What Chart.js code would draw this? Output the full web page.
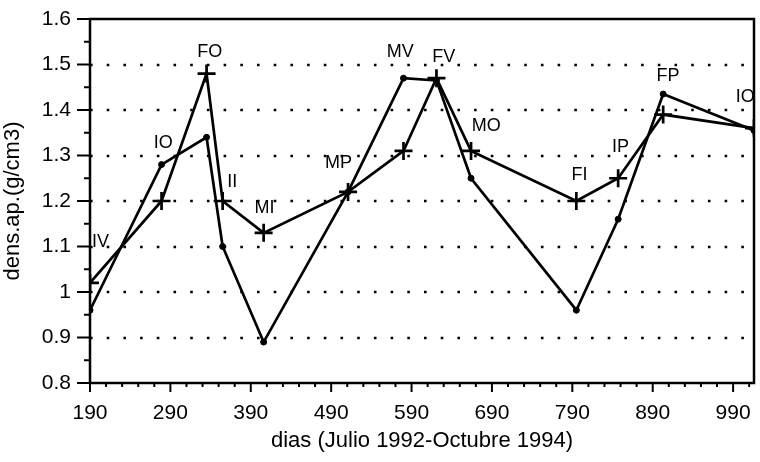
<!DOCTYPE html>
<html>
<head>
<meta charset="utf-8">
<script src="https://cdn.jsdelivr.net/npm/chart.js@4.4.1/dist/chart.umd.min.js"></script>
<style>
  html, body { margin: 0; padding: 0; background: #ffffff; }
  #wrap { width: 760px; height: 462px; }
</style>
</head>
<body>
<div id="wrap"><canvas id="c" width="760" height="462"></canvas></div>
<script>
// ---- data ----
const days = [190, 279, 335, 355, 406, 511, 580, 621, 664, 795, 847, 903, 1016];
const densDots = [0.96, 1.28, 1.34, 1.10, 0.89, 1.22, 1.47, 1.465, 1.25, 0.96, 1.16, 1.435, 1.355];
const densCross = [1.02, 1.20, 1.48, 1.20, 1.13, 1.22, 1.31, 1.47, 1.31, 1.20, 1.25, 1.39, 1.36];
const xTicks = [190, 290, 390, 490, 590, 690, 790, 890, 990];
const yTicks = [0.8, 0.9, 1.0, 1.1, 1.2, 1.3, 1.4, 1.5, 1.6];
const labelText = ['IV', 'IO', 'FO', 'II', 'MI', 'MP', 'MV', 'FV', 'MO', 'FI', 'IP', 'FP', 'IO'];
const labelDay = [203, 281, 339, 367, 407, 499, 576, 630, 683, 799, 850, 909, 1005];
const labelDens = [1.11, 1.327, 1.527, 1.242, 1.185, 1.284, 1.527, 1.516, 1.365, 1.257, 1.319, 1.475, 1.429];
const xTitle = 'dias (Julio 1992-Octubre 1994)';
const yTitle = 'dens.ap.(g/cm3)';

const FONT = '"Liberation Sans", Arial, Helvetica, sans-serif';

const framePlugin = {
  id: 'frame',
  beforeDatasetsDraw(chart) {
    const { ctx, chartArea: a, scales: { y } } = chart;
    ctx.save();
    ctx.strokeStyle = '#000';
    ctx.lineWidth = 2.6;
    ctx.setLineDash([2.6, 14.1]);
    yTicks.forEach(v => {
      if (v <= yTicks[0] || v >= yTicks[yTicks.length - 1]) return;
      const py = Math.round(y.getPixelForValue(v));
      ctx.beginPath();
      ctx.moveTo(a.left, py);
      ctx.lineTo(a.right, py);
      ctx.stroke();
    });
    ctx.restore();
  },
  afterDatasetsDraw(chart) {
    const { ctx, chartArea: a, scales: { x, y } } = chart;
    ctx.save();
    ctx.beginPath();
    ctx.rect(a.left, a.top, a.right - a.left, a.bottom - a.top);
    ctx.clip();
    ctx.fillStyle = '#000';
    ctx.font = '18px ' + FONT;
    ctx.textAlign = 'center';
    ctx.textBaseline = 'middle';
    labelText.forEach((t, i) => {
      ctx.fillText(t, x.getPixelForValue(labelDay[i]), y.getPixelForValue(labelDens[i]));
    });
    ctx.restore();

    ctx.save();
    ctx.strokeStyle = '#000';
    ctx.lineWidth = 2.5;
    ctx.strokeRect(a.left, a.top, a.right - a.left, a.bottom - a.top);
    ctx.lineWidth = 2;
    const y0 = yTicks[0], y1 = yTicks[yTicks.length - 1];
    for (let k = 0; k <= Math.round((y1 - y0) / 0.05); k++) {
      const py = y.getPixelForValue(y0 + k * 0.05);
      const len = (k % 2 === 0) ? 13 : 6;
      ctx.beginPath();
      ctx.moveTo(a.left - len, py);
      ctx.lineTo(a.left, py);
      ctx.stroke();
    }
    for (let v = xTicks[0]; v <= x.max; v += 20) {
      const px = x.getPixelForValue(v);
      const len = ((v - xTicks[0]) % 100 === 0) ? 9 : 4;
      ctx.beginPath();
      ctx.moveTo(px, a.bottom);
      ctx.lineTo(px, a.bottom + len);
      ctx.stroke();
    }
    ctx.restore();
  }
};

new Chart(document.getElementById('c'), {
  type: 'scatter',
  data: {
    datasets: [
      {
        label: 'dots',
        data: days.map((d, i) => ({ x: d, y: densDots[i] })),
        showLine: true,
        borderColor: '#000',
        backgroundColor: '#000',
        borderWidth: 2.7,
        pointStyle: 'circle',
        pointRadius: 3,
        pointBorderWidth: 1,
        tension: 0
      },
      {
        label: 'cross',
        data: days.map((d, i) => ({ x: d, y: densCross[i] })),
        showLine: true,
        borderColor: '#000',
        backgroundColor: '#000',
        borderWidth: 2.7,
        pointStyle: 'cross',
        pointRadius: 9,
        pointBorderWidth: 2.7,
        tension: 0
      }
    ]
  },
  options: {
    responsive: false,
    animation: false,
    devicePixelRatio: 1,
    layout: { autoPadding: false, padding: { top: 19, right: 6, left: 0, bottom: 0 } },
    plugins: { legend: { display: false }, tooltip: { enabled: false } },
    elements: { line: { borderCapStyle: 'butt', borderJoinStyle: 'miter' } },
    scales: {
      x: {
        type: 'linear',
        min: 190,
        max: 1016,
        afterBuildTicks: s => { s.ticks = xTicks.map(v => ({ value: v })); },
        afterFit: s => { s.height = 79; s.paddingLeft = 0; s.paddingRight = 0; },
        grid: { display: false, drawTicks: false },
        border: { display: false },
        ticks: {
          color: '#000',
          font: { family: FONT, size: 21, lineHeight: '60px' },
          padding: 0,
          maxRotation: 0,
          autoSkip: false,
          callback: v => String(v)
        },
        title: {
          display: true,
          text: xTitle,
          color: '#000',
          font: { family: FONT, size: 22 },
          padding: { top: 0, bottom: 8 }
        }
      },
      y: {
        type: 'linear',
        min: 0.8,
        max: 1.6,
        afterBuildTicks: s => { s.ticks = yTicks.map(v => ({ value: v })); },
        afterFit: s => { s.width = 90; s.paddingTop = 0; s.paddingBottom = 0; },
        grid: { display: false, drawTicks: false },
        border: { display: false },
        ticks: {
          color: '#000',
          font: { family: FONT, size: 21 },
          padding: 19,
          autoSkip: false,
          callback: v => (Math.round(v * 10) / 10).toString()
        },
        title: {
          display: true,
          text: yTitle,
          color: '#000',
          font: { family: FONT, size: 22 },
          padding: { top: 0, bottom: 9 }
        }
      }
    }
  },
  plugins: [framePlugin]
});
</script>
</body>
</html>
